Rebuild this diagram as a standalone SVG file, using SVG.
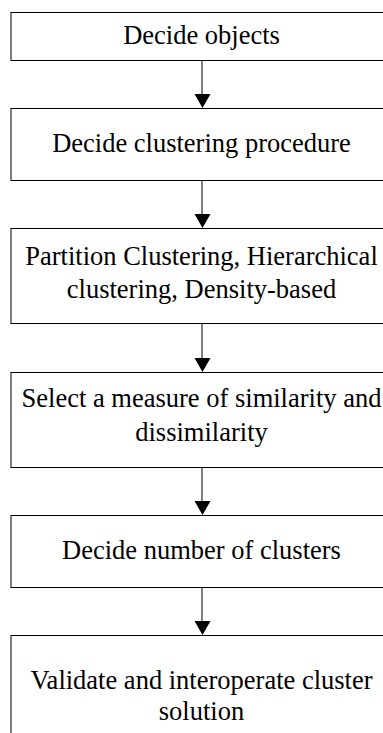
<svg xmlns="http://www.w3.org/2000/svg" width="383" height="733" viewBox="0 0 383 733">
<defs>
<style>
.box{fill:#fff;stroke:#000;stroke-width:1}
.t{font-family:"Liberation Serif","Times New Roman",serif;font-size:26.5px;fill:#000;text-anchor:middle}
.conn{stroke:#000;stroke-width:1;fill:none}
.head{fill:#000}
</style>
</defs>
<rect width="383" height="733" fill="#fff"/>
<g id="n1"><rect class="box" x="11" y="12.5" width="400" height="48"/><text class="t" x="201.5" y="44">Decide objects</text></g>
<g id="n2"><rect class="box" x="11" y="108.5" width="400" height="72"/><text class="t" x="201.5" y="152">Decide clustering procedure</text></g>
<g id="n3"><rect class="box" x="11" y="228.5" width="400" height="95"/><text class="t" x="201.5" y="265">Partition Clustering, Hierarchical</text><text class="t" x="201.5" y="298">clustering, Density-based</text></g>
<g id="n4"><rect class="box" x="11" y="372.5" width="400" height="95"/><text class="t" x="201.5" y="407">Select a measure of similarity and</text><text class="t" x="201.5" y="441">dissimilarity</text></g>
<g id="n5"><rect class="box" x="11" y="515.5" width="400" height="72"/><text class="t" x="201.5" y="559">Decide number of clusters</text></g>
<g id="n6"><rect class="box" x="11" y="635.5" width="400" height="120"/><text class="t" x="201.5" y="689">Validate and interoperate cluster</text><text class="t" x="201.5" y="720">solution</text></g>
<g id="connectors">
<path class="conn" d="M202,61 V94"/><path class="head" d="M194.5,94 H210.5 L202.5,108 Z"/>
<path class="conn" d="M202,181 V214"/><path class="head" d="M194.5,214 H210.5 L202.5,228 Z"/>
<path class="conn" d="M202,324 V358"/><path class="head" d="M194.5,358 H210.5 L202.5,372 Z"/>
<path class="conn" d="M202,468 V501"/><path class="head" d="M194.5,501 H210.5 L202.5,515 Z"/>
<path class="conn" d="M202,588 V621"/><path class="head" d="M194.5,621 H210.5 L202.5,635 Z"/>
</g>
</svg>
